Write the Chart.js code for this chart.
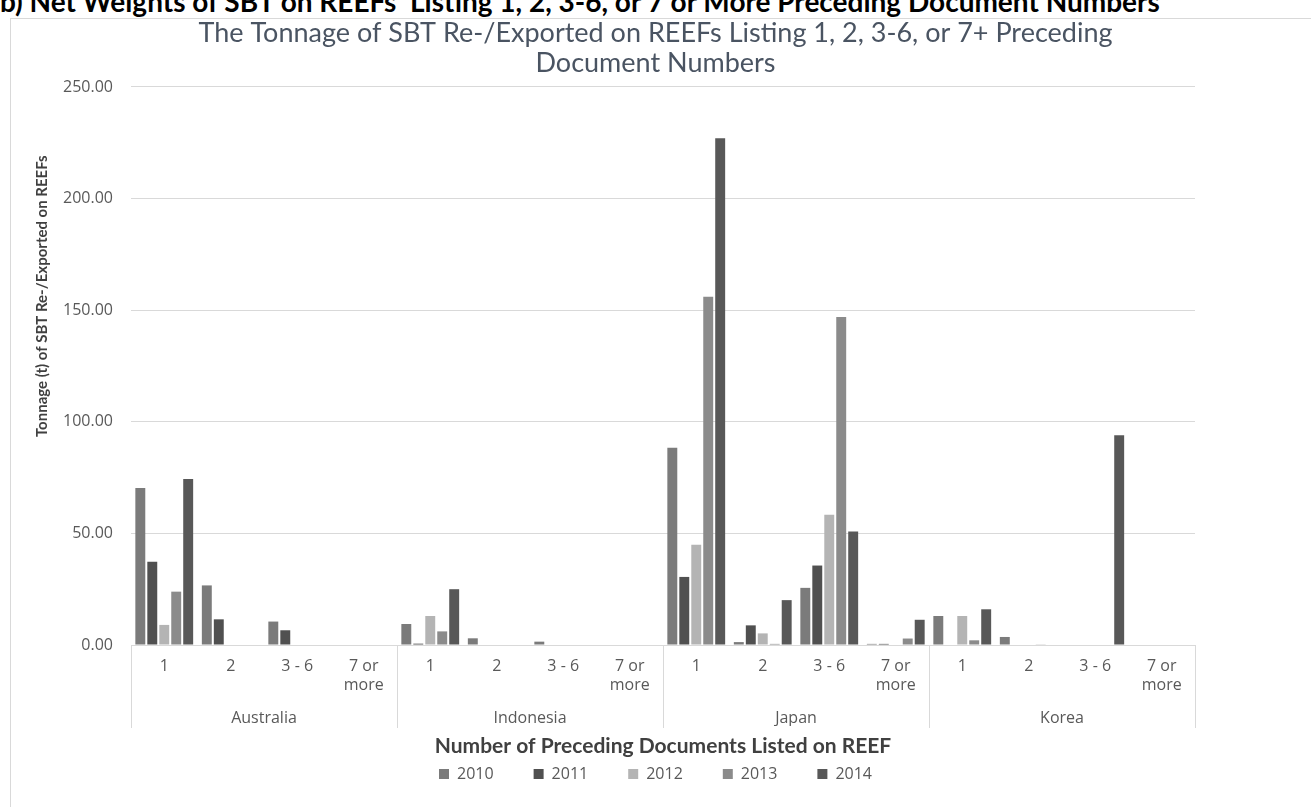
<!DOCTYPE html>
<html>
<head>
<meta charset="utf-8">
<script src="https://cdn.jsdelivr.net/npm/chart.js@4.4.0/dist/chart.umd.min.js"></script>
<style>
  body { margin: 0; background: #fff; overflow: hidden; }
  #legenda-topo { position: absolute; left: 0; top: -16px; font: bold 28px Lato, sans-serif; white-space: pre; color: #000; }
  #moldura { position: absolute; left: 10px; top: 18px; width: 1400px; height: 900px; border: 1px solid #d9d9d9; }
  #caixa { position: absolute; left: 0; top: 0; width: 1311px; height: 807px; }
</style>
</head>
<body>
<div id="legenda-topo">b) Net Weights of SBT on REEFs  Listing 1, 2, 3-6, or 7 or More Preceding Document Numbers</div>
<div id="moldura"></div>
<div id="caixa"><canvas id="grafico-reefs"></canvas></div>
<script>
// categorias
const paises = ['Australia', 'Indonesia', 'Japan', 'Korea'];
const grupos = ['1', '2', '3 - 6', ['7 or', 'more']];
const anos = ['2010', '2011', '2012', '2013', '2014'];
const ticksY = [0, 50, 100, 150, 200, 250];

// toneladas por ano (Australia 1,2,3-6,7+ | Indonesia ... | Japan ... | Korea ...)
const t2010 = [70.3, 26.7, 10.5, 0,   9.4, 3.0, 1.5, 0,   88.4, 1.3, 25.6, 0.5,   13.0, 3.6, 0, 0];
const t2011 = [37.3, 11.5, 6.6, 0,    0.6, 0, 0, 0,       30.5, 8.8, 35.6, 0.5,   0, 0, 0, 0];
const t2012 = [9.0, 0, 0, 0,          13.0, 0, 0, 0,      44.9, 5.2, 58.4, 0,     13.0, 0, 0, 0];
const t2013 = [23.9, 0, 0, 0,         6.1, 0, 0, 0,       156.0, 0.5, 147.0, 2.9, 2.1, 0.3, 0, 0];
const t2014 = [74.4, 0, 0, 0,         25.0, 0, 0, 0,      227.0, 20.1, 50.9, 11.3, 16.0, 0, 94.0, 0];

const cores = ['#7b7b7b', '#505050', '#b4b4b4', '#8b8b8b', '#585858'];
const series = [t2010, t2011, t2012, t2013, t2014];

// monta os rotulos: cada pais repete os 4 grupos
const rotulos = [];
paises.forEach(() => grupos.forEach(g => rotulos.push(g)));

// linhas verticais entre paises e titulo do eixo y
const separadores = {
  id: 'separadores',
  afterDraw(chart) {
    const ctx = chart.ctx;
    const x = chart.scales.x;
    const area = chart.chartArea;
    const fim = chart.scales.x2.bottom + 2;
    ctx.save();
    ctx.strokeStyle = '#d9d9d9';
    ctx.lineWidth = 1;
    for (let i = 0; i <= paises.length; i++) {
      const px = Math.round(x.getPixelForValue(i * grupos.length - 0.5)) + 0.5;
      ctx.beginPath();
      ctx.moveTo(px, area.bottom);
      ctx.lineTo(px, fim);
      ctx.stroke();
    }
    // titulo do eixo y
    ctx.translate(42, area.top + (area.bottom - area.top) * 0.375);
    ctx.rotate(-Math.PI / 2);
    ctx.fillStyle = '#404040';
    ctx.font = 'bold 15px Lato';
    ctx.textAlign = 'center';
    ctx.textBaseline = 'middle';
    ctx.fillText('Tonnage (t) of SBT Re-/Exported on REEFs', 0, 0);
    ctx.restore();
  }
};

new Chart(document.getElementById('grafico-reefs'), {
  type: 'bar',
  data: {
    labels: rotulos,
    datasets: anos.map((ano, i) => ({
      label: ano,
      data: series[i],
      backgroundColor: cores[i],
      categoryPercentage: 0.9,
      barPercentage: 0.83
    }))
  },
  options: {
    responsive: true,
    maintainAspectRatio: false,
    animation: false,
    layout: { padding: { top: 18, left: 0, right: 0, bottom: 15 } },
    scales: {
      x: {
        grid: { display: false, drawTicks: false },
        border: { display: true, color: '#d9d9d9' },
        ticks: {
          color: '#595959',
          font: { family: 'Open Sans', size: 16, lineHeight: 1.2 },
          padding: 12,
          maxRotation: 0,
          autoSkip: false
        },
        afterFit: s => { s.height = 52; }
      },
      x2: {
        type: 'category',
        labels: paises,
        position: 'bottom',
        offset: true,
        weight: 1,
        grid: { display: false, drawTicks: false },
        border: { display: false },
        ticks: {
          color: '#595959',
          font: { family: 'Open Sans', size: 16 },
          padding: 12,
          maxRotation: 0
        },
        title: {
          display: true,
          text: 'Number of Preceding Documents Listed on REEF',
          color: '#404040',
          font: { family: 'Lato', size: 21, weight: 'bold' },
          padding: { top: 0, bottom: -33 }
        },
        afterFit: s => { s.height = 29; }
      },
      y: {
        min: 0,
        max: 250,
        afterBuildTicks: s => { s.ticks = ticksY.map(v => ({ value: v })); },
        grid: { color: '#d9d9d9', drawTicks: false },
        border: { display: false },
        ticks: {
          color: '#595959',
          font: { family: 'Open Sans', size: 16 },
          padding: 18,
          callback: v => Number(v).toFixed(2)
        },
        afterFit: s => { s.width = 131; }
      },
      y2: {
        position: 'right',
        grid: { display: false, drawTicks: false },
        border: { display: false },
        ticks: { display: false },
        afterFit: s => { s.width = 116; }
      }
    },
    plugins: {
      title: {
        display: true,
        text: ['The Tonnage of SBT Re-/Exported on REEFs Listing 1, 2, 3-6, or 7+ Preceding', 'Document Numbers'],
        color: '#4a5462',
        font: { family: 'Lato', size: 27, weight: 'normal', lineHeight: 1.111 },
        padding: { top: 0, bottom: 9 }
      },
      legend: {
        position: 'bottom',
        labels: {
          color: '#595959',
          font: { family: 'Open Sans', size: 16 },
          boxWidth: 10,
          boxHeight: 10,
          padding: 40
        }
      },
      tooltip: { enabled: false }
    }
  },
  plugins: [separadores]
});
</script>
</body>
</html>
